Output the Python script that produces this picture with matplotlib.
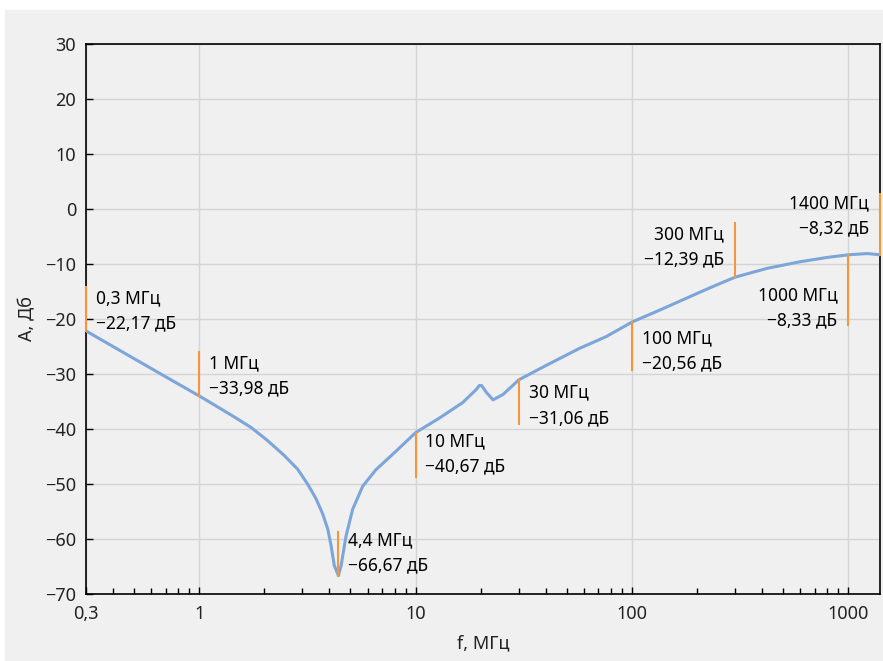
import matplotlib
matplotlib.use("Agg")
from matplotlib import pyplot as plt
from matplotlib.patches import Rectangle
from matplotlib.ticker import FixedLocator, FixedFormatter, NullFormatter

# measured curve, f in MHz, A in dB
freq = [0.3, 0.5, 0.7, 1.0, 1.173, 1.452, 1.735, 2.07, 2.47, 2.85, 3.17, 3.47,
        3.72, 3.93, 4.07, 4.21, 4.4, 4.53, 4.77, 5.12, 5.7, 6.56, 8.14, 10.0,
        12.9, 16.5, 19.1, 19.7, 20.2, 21.2, 22.8, 25.4, 30.0, 40.3, 57.5, 76.0,
        100.0, 134.0, 172.0, 230.0, 300.0, 420.0, 596.0, 800.0, 1000.0, 1220.0,
        1400.0]
ampl = [-22.17, -27.2, -30.5, -33.98, -35.6, -37.8, -39.7, -42.1, -44.8, -47.3,
        -50.0, -52.7, -55.4, -58.2, -61.2, -64.8, -66.67, -64.8, -59.5, -54.6,
        -50.4, -47.4, -44.0, -40.67, -38.0, -35.2, -32.8, -32.1, -32.1, -33.3,
        -34.7, -33.7, -31.06, -28.4, -25.3, -23.2, -20.56, -18.4, -16.5, -14.3,
        -12.39, -10.8, -9.6, -8.8, -8.33, -8.1, -8.32]

# annotated points
mark_f = [0.3, 1, 4.4, 10, 30, 100, 300, 1000, 1400]
mark_a = [-22.17, -33.98, -66.67, -40.67, -31.06, -20.56, -12.39, -8.33, -8.32]

xtick_vals = [0.3, 1, 10, 100, 1000]
xtick_text = ["0,3", "1", "10", "100", "1000"]
yticks = list(range(-70, 31, 10))

# layout of the markers: stick length (dB), text side, text centre (dB)
mark_len = [8, 8, 8, -8, -8, -8.7, 9.8, -12.7, 11]
mark_side = ["r", "r", "r", "r", "r", "r", "l", "l", "l"]
mark_texty = [-18.5, -30.4, -62.5, -44.5, -35.7, -25.8, -6.9, -18.0, -1.3]

plt.rcParams["font.family"] = ["Noto Sans", "DejaVu Sans"]
plt.rcParams["font.size"] = 13

bg = "#f0f0f0"
W, H = 883, 661
fig = plt.figure(figsize=(W / 100, H / 100), dpi=100, facecolor="white")
fig.patches.append(Rectangle((5 / W, 0), 1 - 5 / W, 1 - 10 / H,
                             transform=fig.transFigure, color=bg, zorder=-10))

ax = fig.add_axes([86 / W, 67 / H, 794 / W, 550 / H])
ax.set_facecolor(bg)
ax.set_xscale("log")
ax.set_xlim(0.3, 1400)
ax.set_ylim(-70, 30)

ax.plot(freq, ampl, color="#7ca5d9", linewidth=2.2, solid_joinstyle="round", zorder=3)

for f, a, d, side, ty in zip(mark_f, mark_a, mark_len, mark_side, mark_texty):
    ax.plot([f, f], [a, a + d], color="#f5963c", linewidth=1.5, zorder=6, clip_on=False)
    fs = f"{f:g}".replace(".", ",")
    av = f"{abs(a):.2f}".replace(".", ",")
    label = f"{fs} МГц\n\u2212{av} дБ"
    if side == "r":
        ax.annotate(label, (f, ty), xytext=(7, 0), textcoords="offset points",
                    ha="left", va="center", linespacing=1.5, fontsize=12.5, zorder=5)
    else:
        ax.annotate(label, (f, ty), xytext=(-8, 0), textcoords="offset points",
                    ha="right", va="center", linespacing=1.5, fontsize=12.5,
                    multialignment="right", zorder=5)

ax.xaxis.set_major_locator(FixedLocator(xtick_vals))
ax.xaxis.set_major_formatter(FixedFormatter(xtick_text))
ax.xaxis.set_minor_formatter(NullFormatter())
ax.set_yticks(yticks)
ax.set_yticklabels([str(v).replace("-", "\u2212") for v in yticks])

ax.grid(True, which="major", color="#d4d4d4", linewidth=1.0, zorder=0)
ax.set_axisbelow(True)
ax.tick_params(which="both", direction="in", top=False, right=False,
               colors="black", labelcolor="#222222")
ax.tick_params(which="major", length=5, width=1, pad=8, labelsize=13)
ax.tick_params(which="minor", length=4.5, width=1)
ax.tick_params(axis="y", which="major", length=5, pad=7)
ax.tick_params(axis="y", which="minor", left=False)

for s in ax.spines.values():
    s.set_linewidth(1.2)
    s.set_color("black")

ax.set_xlabel("f, МГц", fontsize=13, color="#222222", labelpad=8)
ax.set_ylabel("A, Дб", fontsize=13, color="#222222", labelpad=6)

fig.savefig("out.png", dpi=100, facecolor=fig.get_facecolor())
